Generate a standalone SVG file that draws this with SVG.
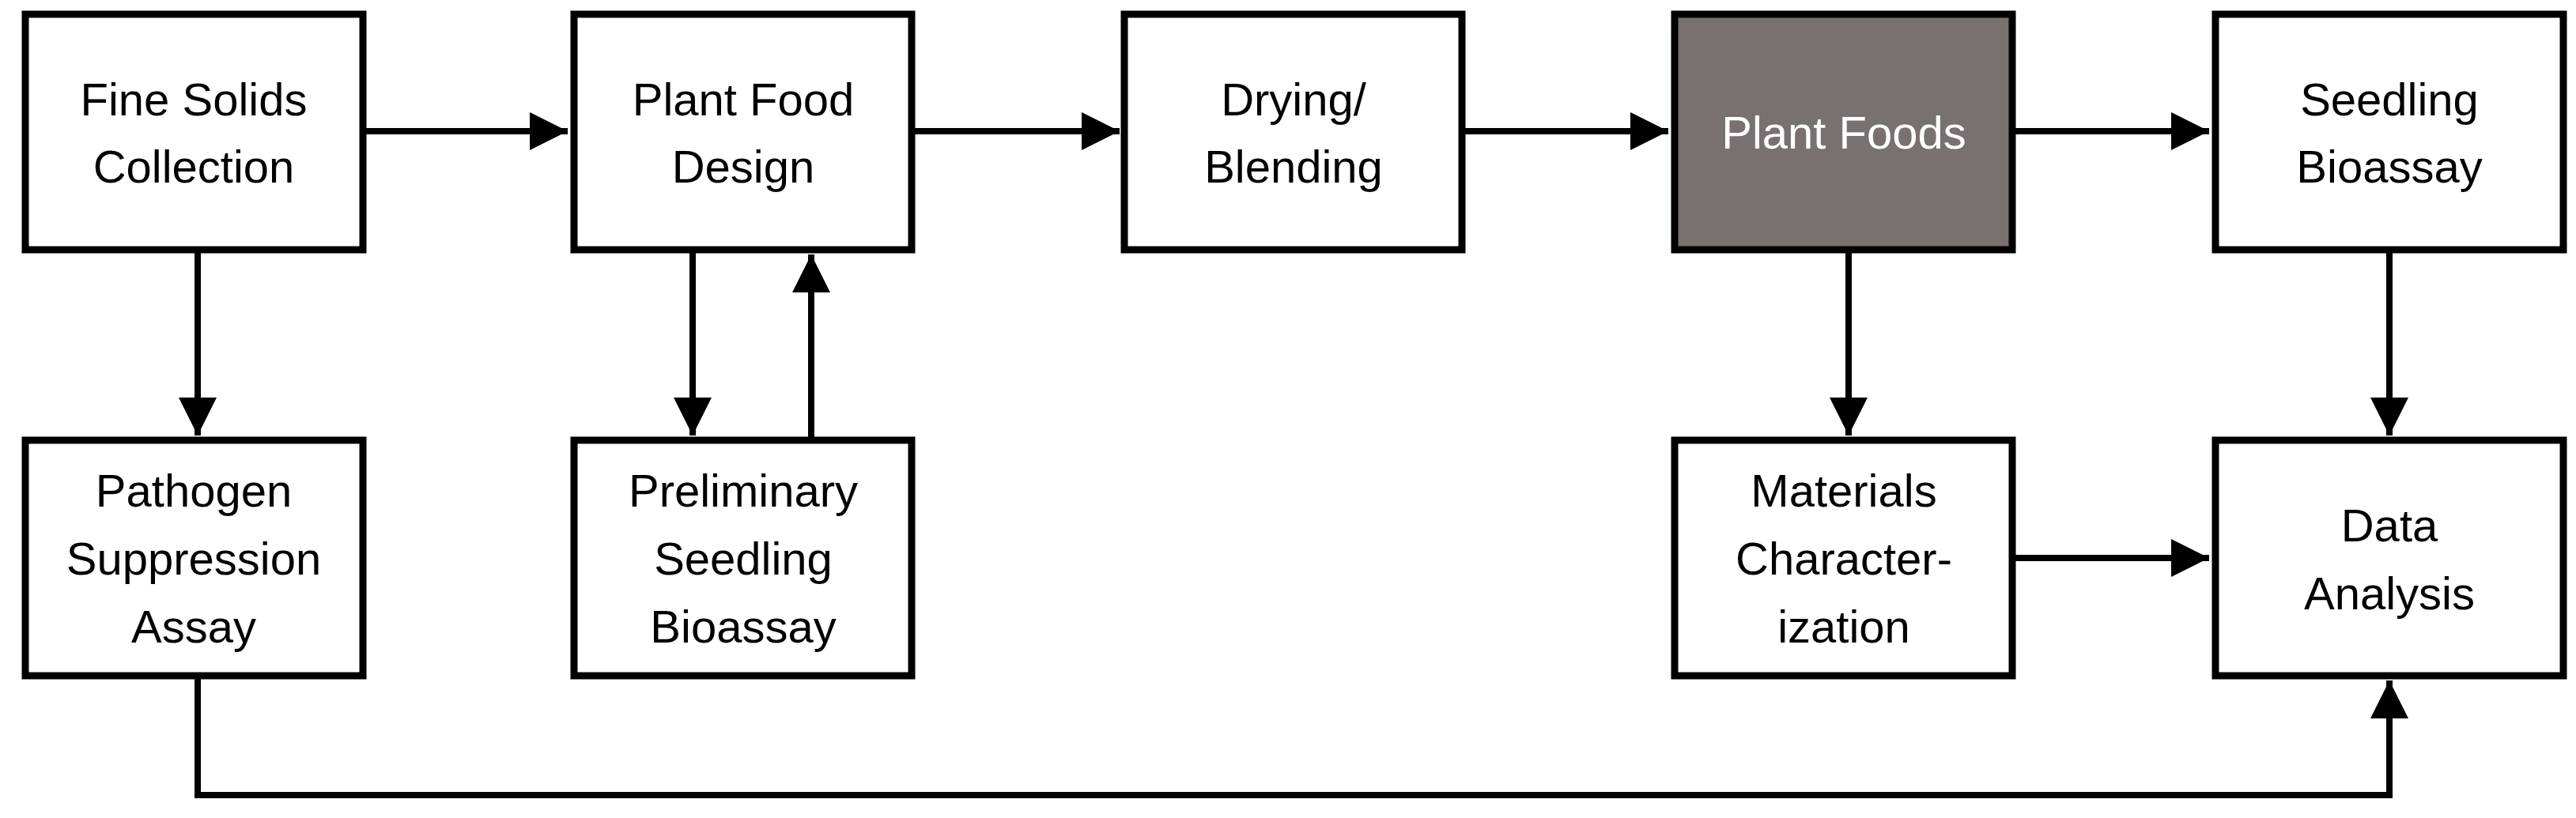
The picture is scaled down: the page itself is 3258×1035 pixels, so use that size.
<svg xmlns="http://www.w3.org/2000/svg" width="3258" height="1035" viewBox="0 0 3258 1035">
<style>
.b{fill:#fff;stroke:#000;stroke-width:9}
.d{fill:#787170;stroke:#000;stroke-width:9}
text{font-family:"Liberation Sans",Arial,sans-serif;font-size:58px;text-anchor:middle;fill:#000}
.w{fill:#fff}
.c{fill:none;stroke:#000;stroke-width:8}
</style>
<defs><marker id="a" markerWidth="6" markerHeight="6" refX="6" refY="3" orient="auto" markerUnits="strokeWidth"><path d="M0,0L6,3L0,6z" fill="#000"/></marker></defs>
<g id="connectors">
<path class="c" d="M459,166H718" marker-end="url(#a)"/>
<path class="c" d="M1155,166H1416" marker-end="url(#a)"/>
<path class="c" d="M1853,166H2110" marker-end="url(#a)"/>
<path class="c" d="M2547,166H2794" marker-end="url(#a)"/>
<path class="c" d="M250,320V551" marker-end="url(#a)"/>
<path class="c" d="M876,320V551" marker-end="url(#a)"/>
<path class="c" d="M1026,553V322" marker-end="url(#a)"/>
<path class="c" d="M2338,320V551" marker-end="url(#a)"/>
<path class="c" d="M3022,320V551" marker-end="url(#a)"/>
<path class="c" d="M2547,706H2794" marker-end="url(#a)"/>
<path class="c" d="M250,859V1006H3022V861" marker-end="url(#a)"/>
</g>
<g id="fine"><rect class="b" x="32" y="18" width="427" height="298"/><text x="245" y="146">Fine Solids</text><text x="245" y="231">Collection</text></g>
<g id="design"><rect class="b" x="726" y="18" width="427" height="298"/><text x="940" y="146">Plant Food</text><text x="940" y="231">Design</text></g>
<g id="drying"><rect class="b" x="1422" y="18" width="427" height="298"/><text x="1636" y="146">Drying/</text><text x="1636" y="231">Blending</text></g>
<g id="foods"><rect class="d" x="2118" y="18" width="427" height="298"/><text class="w" x="2332" y="188">Plant Foods</text></g>
<g id="seedling"><rect class="b" x="2802" y="18" width="440" height="298"/><text x="3022" y="146">Seedling</text><text x="3022" y="231">Bioassay</text></g>
<g id="pathogen"><rect class="b" x="32" y="557" width="427" height="298"/><text x="245" y="641">Pathogen</text><text x="245" y="727">Suppression</text><text x="245" y="813">Assay</text></g>
<g id="prelim"><rect class="b" x="726" y="557" width="427" height="298"/><text x="940" y="641">Preliminary</text><text x="940" y="727">Seedling</text><text x="940" y="813">Bioassay</text></g>
<g id="materials"><rect class="b" x="2118" y="557" width="427" height="298"/><text x="2332" y="641">Materials</text><text x="2332" y="727">Character-</text><text x="2332" y="813">ization</text></g>
<g id="data"><rect class="b" x="2802" y="557" width="440" height="298"/><text x="3022" y="685">Data</text><text x="3022" y="771">Analysis</text></g>
</svg>
